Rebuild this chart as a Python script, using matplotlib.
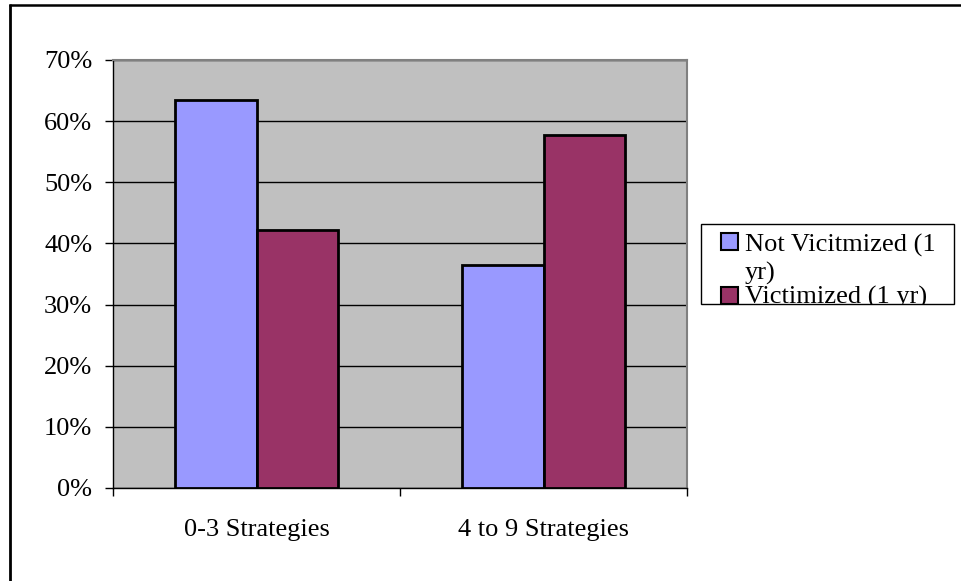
import textwrap
import matplotlib
matplotlib.use("Agg")
import matplotlib.pyplot as plt
from matplotlib.patches import Rectangle
from matplotlib.lines import Line2D
from matplotlib.ticker import FixedLocator, FuncFormatter

# ---- data ----
categories = ["0-3 Strategies", "4 to 9 Strategies"]
series_names = ["Not Vicitmized (1 yr)", "Victimized (1 yr)"]
not_victimized = [0.635, 0.365]
victimized = [0.422, 0.578]
y_ticks = [0.0, 0.1, 0.2, 0.3, 0.4, 0.5, 0.6, 0.7]

colors = ["#9999FF", "#993366"]
W, H = 961, 581
DPI = 100
FONT = "Liberation Serif"
FS = 19

fig = plt.figure(figsize=(W / DPI, H / DPI), dpi=DPI)
fig.patch.set_facecolor("white")

def fx(px):
    return px / W

def fy(py):
    return 1 - py / H

# outer chart border (left and top visible)
fig.add_artist(Line2D([fx(10), fx(10)], [fy(4), fy(590)], color="black", lw=2.0,
                      solid_capstyle="butt", transform=fig.transFigure))
fig.add_artist(Line2D([fx(9), fx(970)], [fy(5), fy(5)], color="black", lw=1.8,
                      solid_capstyle="butt", transform=fig.transFigure))

left, right, top, bottom = 113, 687, 60, 488
ax = fig.add_axes([fx(left), fy(bottom), fx(right - left), fy(top) - fy(bottom)])
ax.set_facecolor("#C0C0C0")

x = list(range(len(categories)))
bw = 0.2857
series = [not_victimized, victimized]
for i, vals in enumerate(series):
    offs = (i - 0.5) * bw
    ax.bar([xi + offs for xi in x], vals, width=bw, color=colors[i],
           edgecolor="black", linewidth=2.0, zorder=3)

ax.set_xlim(-0.5, len(categories) - 0.5)
ax.set_ylim(0, 0.7)
ax.set_yticks(y_ticks)
ax.yaxis.set_major_formatter(FuncFormatter(lambda v, p: f"{v*100:.0f}%"))
ax.yaxis.grid(True, color="black", lw=1.0, zorder=1)
ax.set_axisbelow(True)

ax.xaxis.set_major_locator(FixedLocator([-0.5, 0.5, 1.5]))
ax.xaxis.set_major_formatter(FuncFormatter(lambda v, p: ""))
ax.xaxis.set_minor_locator(FixedLocator(x))
ax.set_xticklabels(categories, minor=True)
ax.tick_params(axis="x", which="minor", length=0, pad=22.5,
               labelsize=FS, labelfontfamily=FONT)
ax.tick_params(axis="x", which="major", length=6, width=1, direction="out")
ax.tick_params(axis="y", length=6, width=1, direction="out", pad=9,
               labelsize=FS, labelfontfamily=FONT)

for s in ["top", "right"]:
    ax.spines[s].set_color("#808080")
    ax.spines[s].set_linewidth(1.5)
ax.spines["left"].set_color("black")
ax.spines["bottom"].set_color("black")
ax.spines["left"].set_linewidth(1.0)
ax.spines["bottom"].set_linewidth(1.0)

# ---- legend (Excel style, narrow box that wraps and clips text) ----
lx0, ly0, lx1, ly1 = 701, 224, 954, 304
box = Rectangle((fx(lx0), fy(ly1)), fx(lx1 - lx0), fy(ly0) - fy(ly1),
                transform=fig.transFigure, facecolor="white", edgecolor="black",
                lw=1.0, zorder=5)
fig.add_artist(box)
clip = Rectangle((fx(lx0), fy(ly1)), fx(lx1 - lx0), fy(ly0) - fy(ly1),
                 transform=fig.transFigure, facecolor="none", edgecolor="none")
fig.add_artist(clip)

entry_baselines = [252, 304]
swatch_tops = [233, 287]
line_step = 28
for i, name in enumerate(series_names):
    sw = Rectangle((fx(721), fy(swatch_tops[i] + 17)), fx(17), fy(swatch_tops[i]) - fy(swatch_tops[i] + 17),
                   transform=fig.transFigure, facecolor=colors[i], edgecolor="black",
                   lw=1.5, zorder=6)
    fig.add_artist(sw)
    sw.set_clip_path(clip)
    for j, line in enumerate(textwrap.wrap(name, 18)):
        t = fig.text(fx(745), fy(entry_baselines[i] + j * line_step), line,
                     fontsize=FS, family=FONT, ha="left", va="baseline", zorder=7)
        t.set_clip_path(clip)

fig.savefig("out.png", dpi=DPI, facecolor="white")
